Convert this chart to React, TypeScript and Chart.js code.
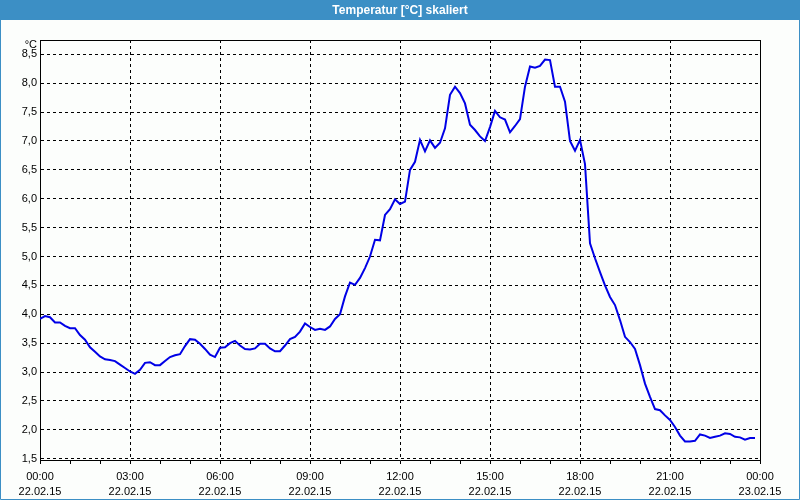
import React, { useEffect, useRef } from "react";
import { Chart, registerables } from "chart.js";

Chart.register(...registerables);

const TITLE = "Temperatur [°C] skaliert";
const UNIT = "°C";
const SAMPLE_MINUTES = 10;

// Temperature readings every 10 minutes starting 22.02.15 00:00
const temperature = [
  3.92, 3.97, 3.95, 3.86, 3.86, 3.8, 3.76, 3.76, 3.64, 3.56,
  3.43, 3.35, 3.27, 3.22, 3.21, 3.19, 3.13, 3.07, 3.01, 2.97,
  3.04, 3.16, 3.17, 3.12, 3.12, 3.19, 3.26, 3.29, 3.31, 3.45,
  3.57, 3.56, 3.49, 3.4, 3.3, 3.26, 3.42, 3.43, 3.5, 3.54,
  3.46, 3.4, 3.39, 3.41, 3.49, 3.49, 3.41, 3.36, 3.36, 3.46,
  3.57, 3.61, 3.7, 3.84, 3.78, 3.73, 3.75, 3.73, 3.79, 3.92,
  4.0, 4.31, 4.55, 4.51, 4.63, 4.8, 5.0, 5.29, 5.28, 5.72,
  5.82, 5.99, 5.91, 5.95, 6.5, 6.64, 7.02, 6.82, 7.01, 6.88,
  6.97, 7.22, 7.8, 7.94, 7.83, 7.65, 7.28, 7.19, 7.08, 7.0,
  7.24, 7.52, 7.41, 7.37, 7.15, 7.26, 7.38, 7.94, 8.29, 8.27,
  8.3, 8.41, 8.4, 7.94, 7.94, 7.68, 7.0, 6.83, 7.02, 6.6,
  5.23, 4.97, 4.73, 4.5, 4.3, 4.16, 3.9, 3.61, 3.52, 3.4,
  3.12, 2.8, 2.57, 2.36, 2.34, 2.25, 2.17, 2.05, 1.9, 1.8,
  1.8, 1.81, 1.92, 1.9, 1.86, 1.88, 1.9, 1.94, 1.93, 1.88,
  1.87, 1.83, 1.86, 1.86,
];

const xTickMinutes = [0, 180, 360, 540, 720, 900, 1080, 1260, 1440];
const xTimeLabels = ["00:00", "03:00", "06:00", "09:00", "12:00", "15:00", "18:00", "21:00", "00:00"];
const xDateLabels = ["22.02.15", "22.02.15", "22.02.15", "22.02.15", "22.02.15", "22.02.15", "22.02.15", "22.02.15", "23.02.15"];
const yTicks = [1.5, 2.0, 2.5, 3.0, 3.5, 4.0, 4.5, 5.0, 5.5, 6.0, 6.5, 7.0, 7.5, 8.0, 8.5];

const FONT = '"Liberation Sans", Arial, sans-serif';
const BLUE = "#3c8fc5";

const framePlugin = {
  id: "frame",
  beforeDraw(chart: any) {
    const { ctx, width, height } = chart;
    ctx.save();
    ctx.fillStyle = "#fcfefc";
    ctx.fillRect(0, 0, width, height);
    ctx.fillStyle = BLUE;
    ctx.fillRect(0, 0, width, 20);
    ctx.restore();
  },
  afterDraw(chart: any) {
    const { ctx, width, height, chartArea } = chart;
    const { left, right, top, bottom } = chartArea;
    ctx.save();
    ctx.strokeStyle = "#000";
    ctx.lineWidth = 1;
    ctx.setLineDash([]);
    ctx.beginPath();
    ctx.moveTo(Math.round(left) + 0.5, Math.round(top) + 0.5);
    ctx.lineTo(Math.round(right) + 0.5, Math.round(top) + 0.5);
    ctx.lineTo(Math.round(right) + 0.5, Math.round(bottom) + 0.5);
    ctx.stroke();
    // window border
    ctx.strokeStyle = BLUE;
    ctx.beginPath();
    ctx.moveTo(0.5, 0);
    ctx.lineTo(0.5, height - 0.5);
    ctx.lineTo(width - 0.5, height - 0.5);
    ctx.lineTo(width - 0.5, 0);
    ctx.stroke();
    // title
    ctx.fillStyle = "#ffffff";
    ctx.font = `bold 12px ${FONT}`;
    ctx.textAlign = "center";
    ctx.textBaseline = "middle";
    ctx.fillText(TITLE, width / 2, 10.5);
    // unit
    ctx.fillStyle = "#000";
    ctx.font = `11px ${FONT}`;
    ctx.textAlign = "right";
    ctx.fillText(UNIT, 37, 45);
    ctx.restore();
  },
};

export default function App() {
  const ref = useRef<HTMLCanvasElement>(null);
  useEffect(() => {
    const points = temperature.map((v, i) => ({ x: i * SAMPLE_MINUTES, y: v }));
    const chart = new Chart(ref.current as HTMLCanvasElement, {
      type: "line",
      data: {
        datasets: [
          {
            data: points,
            borderColor: "#0000e6",
            borderWidth: 2,
            pointRadius: 0,
            tension: 0,
            fill: false,
          },
        ],
      },
      options: {
        responsive: false,
        animation: false,
        layout: { padding: { left: 8, right: 40, top: 40, bottom: 0 } },
        plugins: {
          legend: { display: false },
          tooltip: { enabled: false },
          title: { display: false },
        },
        scales: {
          x: {
            type: "linear",
            min: 0,
            max: 1440,
            afterBuildTicks: (s: any) => {
              const t = [];
              for (let m = 0; m <= 1440; m += 60) t.push({ value: m });
              s.ticks = t;
            },
            afterFit: (s: any) => {
              s.height = 40;
            },
            grid: {
              color: (c: any) =>
                c.tick && c.tick.value % 180 === 0 ? "#000" : "rgba(0,0,0,0)",
              tickColor: "#000",
              tickLength: 4,
              lineWidth: 1,
              drawTicks: true,
            },
            border: { display: true, color: "#000", width: 1, dash: [3, 3] },
            ticks: {
              autoSkip: false,
              maxRotation: 0,
              padding: 5,
              color: "#000",
              font: { family: FONT, size: 11, lineHeight: 1.4 },
              callback: (v: any) => {
                const i = xTickMinutes.indexOf(Number(v));
                return i >= 0 ? [xTimeLabels[i], xDateLabels[i]] : "";
              },
            },
          },
          y: {
            type: "linear",
            min: 1.478,
            max: 8.748,
            afterBuildTicks: (s: any) => {
              s.ticks = yTicks.map((v) => ({ value: v }));
            },
            afterFit: (s: any) => {
              s.width = 32;
            },
            grid: {
              color: "#000",
              lineWidth: 1,
              drawTicks: false,
            },
            border: { display: true, color: "#000", width: 1, dash: [3, 3] },
            ticks: {
              padding: 3,
              color: "#000",
              font: { family: FONT, size: 11 },
              callback: (v: any) => Number(v).toFixed(1).replace(".", ","),
            },
          },
        },
      },
      plugins: [framePlugin],
    } as any);
    return () => chart.destroy();
  }, []);

  return (
    <div style={{ position: "fixed", left: 0, top: 0, width: 800, height: 500 }}>
      <canvas ref={ref} width={800} height={500} style={{ display: "block" }} />
    </div>
  );
}
